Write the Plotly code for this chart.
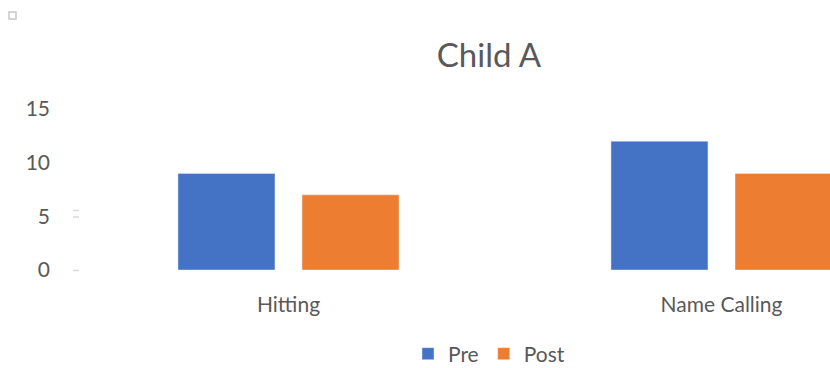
import plotly.graph_objects as go

categories = ["Hitting", "Name Calling"]
pre_values = [9, 12]
post_values = [7, 9]
y_ticks = [0, 5, 10, 15]

FONT = "Lato, 'Open Sans', sans-serif"
TXT = "#595959"

W, H = 830, 368
ML, MR, MT, MB = 72, 0, 109, 98
pw = W - ML - MR
ph = H - MT - MB

fig = go.Figure()
fig.add_trace(go.Bar(name="Pre", x=categories, y=pre_values, marker_color="#4472C4"))
fig.add_trace(go.Bar(name="Post", x=categories, y=post_values, marker_color="#ED7D31"))

def px_x(p):
    return (p - ML) / pw

def px_y(p):
    return (H - MB - p) / ph

shapes = [dict(type="rect", xref="paper", yref="paper",
               x0=px_x(9), x1=px_x(16), y0=px_y(19), y1=px_y(12),
               line=dict(color="#C8C8C8", width=1.5), fillcolor="white")]
for py in (210.5, 217, 270.5):
    shapes.append(dict(type="line", xref="paper", yref="paper",
                       x0=px_x(73), x1=px_x(79), y0=px_y(py), y1=px_y(py),
                       line=dict(color="#D9D9D9", width=1.5)))

fig.update_layout(
    width=W, height=H,
    margin=dict(l=ML, r=MR, t=MT, b=MB, autoexpand=False),
    paper_bgcolor="white", plot_bgcolor="white",
    barmode="group", bargap=0.427, bargroupgap=0.218,
    font=dict(family=FONT, color=TXT, size=22),
    title=dict(text="Child A", x=px_x(489), xref="paper", xanchor="center",
               y=1 - 55 / H, yanchor="middle", yref="container",
               font=dict(size=33, color=TXT, family=FONT)),
    showlegend=True,
    legend=dict(orientation="h", x=px_x(489), xanchor="center", xref="paper",
                y=1 - 354 / H, yanchor="middle", yref="container",
                font=dict(size=21, color=TXT), itemwidth=30, traceorder="normal"),
    xaxis=dict(range=[-0.5, -0.5 + pw / 433.0], showgrid=False, zeroline=False,
               showline=False, ticks="", ticklabelstandoff=20,
               tickfont=dict(size=21, color=TXT)),
    yaxis=dict(range=[0, 15], tickvals=y_ticks, showgrid=False, zeroline=False,
               showline=False, ticks="", ticklabelstandoff=21,
               tickfont=dict(size=21, color=TXT)),
    shapes=shapes,
)

fig.write_html("out.html")
